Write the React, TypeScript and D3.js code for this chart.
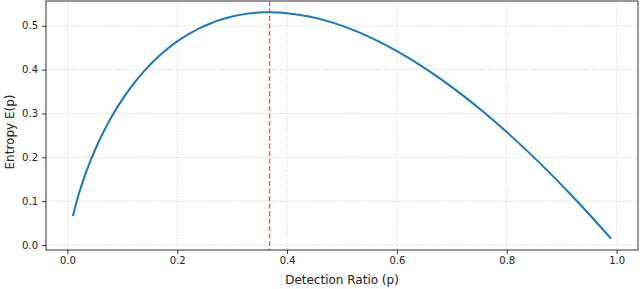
import React, { useEffect, useRef } from "react";
import * as d3 from "d3";

// values
const pValues = [
  0.01, 0.02, 0.03, 0.04, 0.05, 0.06, 0.08, 0.1, 0.12, 0.14, 0.16, 0.18, 0.2,
  0.22, 0.24, 0.26, 0.28, 0.3, 0.32, 0.34, 0.36, 0.38, 0.4, 0.44, 0.48, 0.52,
  0.56, 0.6, 0.64, 0.68, 0.72, 0.76, 0.8, 0.84, 0.88, 0.92, 0.96, 0.99,
];
const entropyValues = [
  0.0664, 0.1129, 0.1518, 0.1858, 0.2161, 0.2435, 0.2915, 0.3322, 0.3671,
  0.3971, 0.423, 0.4453, 0.4644, 0.4806, 0.4941, 0.5053, 0.5142, 0.5211,
  0.526, 0.5292, 0.5306, 0.5305, 0.5288, 0.5211, 0.5083, 0.4906, 0.4685,
  0.4422, 0.4121, 0.3784, 0.3412, 0.3009, 0.2575, 0.2113, 0.1623, 0.1107,
  0.0565, 0.0144,
];
const peakP = 0.368;
const xTicks = [0.0, 0.2, 0.4, 0.6, 0.8, 1.0];
const yTicks = [0.0, 0.1, 0.2, 0.3, 0.4, 0.5];

const W = 640;
const H = 289;
const margin = { left: 46, right: 2, top: 1, bottom: 39 };
const FONT = "DejaVu Sans, sans-serif";

const App = () => {
  const svgRef = useRef<SVGSVGElement>(null);

  useEffect(() => {
    if (!svgRef.current) return;
    const svg = d3.select(svgRef.current);
    svg.selectAll("*").remove();

    const x = d3
      .scaleLinear()
      .domain([-0.039, 1.039])
      .range([margin.left, W - margin.right]);
    const y = d3
      .scaleLinear()
      .domain([-0.0114, 0.5565])
      .range([H - margin.bottom, margin.top]);

    const x0 = margin.left;
    const x1 = W - margin.right;
    const y0 = H - margin.bottom;
    const y1 = margin.top;

    // grid
    const grid = svg.append("g");
    grid
      .selectAll("line.gx")
      .data(xTicks)
      .join("line")
      .attr("x1", (d) => x(d))
      .attr("x2", (d) => x(d))
      .attr("y1", y1)
      .attr("y2", y0)
      .attr("stroke", "#b0b0b0")
      .attr("stroke-width", 0.8)
      .attr("stroke-dasharray", "1,1.6")
      .attr("opacity", 0.7);
    grid
      .selectAll("line.gy")
      .data(yTicks)
      .join("line")
      .attr("x1", x0)
      .attr("x2", x1)
      .attr("y1", (d) => y(d))
      .attr("y2", (d) => y(d))
      .attr("stroke", "#b0b0b0")
      .attr("stroke-width", 0.8)
      .attr("stroke-dasharray", "1,1.6")
      .attr("opacity", 0.7);

    // curve
    const pts: [number, number][] = pValues.map((p, i) => [p, entropyValues[i]]);
    const line = d3
      .line<[number, number]>()
      .x((d) => x(d[0]))
      .y((d) => y(d[1]))
      .curve(d3.curveCatmullRom);
    svg
      .append("path")
      .datum(pts)
      .attr("d", line)
      .attr("fill", "none")
      .attr("stroke", "#1f77b4")
      .attr("stroke-width", 2);

    // peak marker
    svg
      .append("line")
      .attr("x1", x(peakP))
      .attr("x2", x(peakP))
      .attr("y1", y1)
      .attr("y2", y0)
      .attr("stroke", "#e0474c")
      .attr("stroke-opacity", 0.85)
      .attr("stroke-width", 1.4)
      .attr("stroke-dasharray", "5,2.5");

    // spines
    svg
      .append("rect")
      .attr("x", x0)
      .attr("y", y1)
      .attr("width", x1 - x0)
      .attr("height", y0 - y1)
      .attr("fill", "none")
      .attr("stroke", "#333")
      .attr("stroke-width", 1);

    // x axis
    const xAxis = svg
      .append("g")
      .attr("transform", `translate(0,${y0})`)
      .call(
        d3
          .axisBottom(x)
          .tickValues(xTicks)
          .tickSize(4)
          .tickPadding(3)
          .tickFormat(d3.format(".1f"))
      );
    xAxis.select(".domain").remove();
    xAxis.selectAll("line").attr("stroke", "#333");
    xAxis
      .selectAll("text")
      .attr("fill", "#222")
      .attr("font-family", FONT)
      .attr("font-size", 10);

    // y axis
    const yAxis = svg
      .append("g")
      .attr("transform", `translate(${x0},0)`)
      .call(
        d3
          .axisLeft(y)
          .tickValues(yTicks)
          .tickSize(4)
          .tickPadding(4)
          .tickFormat(d3.format(".1f"))
      );
    yAxis.select(".domain").remove();
    yAxis.selectAll("line").attr("stroke", "#333");
    yAxis
      .selectAll("text")
      .attr("fill", "#222")
      .attr("font-family", FONT)
      .attr("font-size", 10);

    // labels
    svg
      .append("text")
      .attr("x", (x0 + x1) / 2)
      .attr("y", 284)
      .attr("text-anchor", "middle")
      .attr("font-family", FONT)
      .attr("font-size", 12)
      .attr("fill", "#222")
      .text("Detection Ratio (p)");
    svg
      .append("text")
      .attr("transform", `translate(14,132) rotate(-90)`)
      .attr("text-anchor", "middle")
      .attr("font-family", FONT)
      .attr("font-size", 12)
      .attr("fill", "#222")
      .text("Entropy E(p)");
  }, []);

  return (
    <div style={{ position: "absolute", left: 0, top: 0, width: W, height: H, background: "#fff" }}>
      <svg ref={svgRef} width={W} height={H} style={{ display: "block" }} />
    </div>
  );
};

export default App;
